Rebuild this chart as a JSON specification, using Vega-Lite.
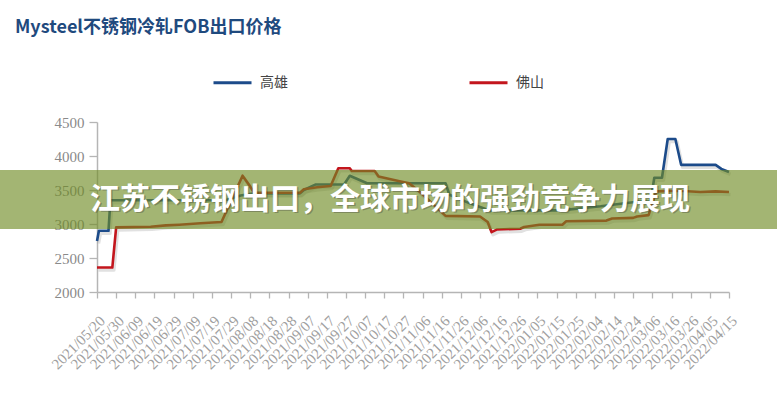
{
  "$schema": "https://vega.github.io/schema/vega-lite/v6.json",
  "width": 632,
  "height": 170,
  "autosize": {"type": "none"},
  "padding": {"left": 97, "top": 122, "right": 48, "bottom": 108},
  "background": "white",
  "config": {"view": {"stroke": null}},
  "title": {
    "text": "Mysteel不锈钢冷轧FOB出口价格",
    "anchor": "start",
    "frame": "group",
    "dx": -82,
    "offset": 25,
    "font": "Noto Sans CJK SC",
    "fontSize": 18,
    "fontWeight": "bold",
    "color": "#1f4a7e"
  },
  "resolve": {"axis": {"x": "independent", "y": "independent"}},
  "data": {
    "values": [
      {"date": "2021-05-20", "series": "高雄", "price": 2750},
      {"date": "2021-05-21", "series": "高雄", "price": 2900},
      {"date": "2021-05-26", "series": "高雄", "price": 2900},
      {"date": "2021-05-27", "series": "高雄", "price": 3350},
      {"date": "2021-07-26", "series": "高雄", "price": 3350},
      {"date": "2021-08-03", "series": "高雄", "price": 3420},
      {"date": "2021-08-10", "series": "高雄", "price": 3450},
      {"date": "2021-09-03", "series": "高雄", "price": 3450},
      {"date": "2021-09-05", "series": "高雄", "price": 3500},
      {"date": "2021-09-11", "series": "高雄", "price": 3580},
      {"date": "2021-09-26", "series": "高雄", "price": 3580},
      {"date": "2021-09-29", "series": "高雄", "price": 3710},
      {"date": "2021-10-08", "series": "高雄", "price": 3600},
      {"date": "2021-11-18", "series": "高雄", "price": 3600},
      {"date": "2021-11-20", "series": "高雄", "price": 3430},
      {"date": "2021-12-01", "series": "高雄", "price": 3300},
      {"date": "2021-12-11", "series": "高雄", "price": 3200},
      {"date": "2022-01-17", "series": "高雄", "price": 3200},
      {"date": "2022-02-07", "series": "高雄", "price": 3260},
      {"date": "2022-02-27", "series": "高雄", "price": 3330},
      {"date": "2022-03-05", "series": "高雄", "price": 3330},
      {"date": "2022-03-07", "series": "高雄", "price": 3680},
      {"date": "2022-03-11", "series": "高雄", "price": 3680},
      {"date": "2022-03-14", "series": "高雄", "price": 4250},
      {"date": "2022-03-18", "series": "高雄", "price": 4250},
      {"date": "2022-03-21", "series": "高雄", "price": 3870},
      {"date": "2022-04-08", "series": "高雄", "price": 3870},
      {"date": "2022-04-11", "series": "高雄", "price": 3810},
      {"date": "2022-04-15", "series": "高雄", "price": 3765},
      {"date": "2021-05-20", "series": "佛山", "price": 2360},
      {"date": "2021-05-28", "series": "佛山", "price": 2360},
      {"date": "2021-05-30", "series": "佛山", "price": 2950},
      {"date": "2021-06-17", "series": "佛山", "price": 2960},
      {"date": "2021-06-25", "series": "佛山", "price": 2980},
      {"date": "2021-07-02", "series": "佛山", "price": 2990},
      {"date": "2021-07-13", "series": "佛山", "price": 3010},
      {"date": "2021-07-24", "series": "佛山", "price": 3030},
      {"date": "2021-08-04", "series": "佛山", "price": 3710},
      {"date": "2021-08-08", "series": "佛山", "price": 3550},
      {"date": "2021-08-10", "series": "佛山", "price": 3460},
      {"date": "2021-09-03", "series": "佛山", "price": 3460},
      {"date": "2021-09-05", "series": "佛山", "price": 3510},
      {"date": "2021-09-12", "series": "佛山", "price": 3540},
      {"date": "2021-09-19", "series": "佛山", "price": 3560},
      {"date": "2021-09-23", "series": "佛山", "price": 3820},
      {"date": "2021-09-29", "series": "佛山", "price": 3820},
      {"date": "2021-09-30", "series": "佛山", "price": 3780},
      {"date": "2021-10-12", "series": "佛山", "price": 3780},
      {"date": "2021-10-14", "series": "佛山", "price": 3700},
      {"date": "2021-10-25", "series": "佛山", "price": 3630},
      {"date": "2021-10-30", "series": "佛山", "price": 3600},
      {"date": "2021-11-05", "series": "佛山", "price": 3460},
      {"date": "2021-11-18", "series": "佛山", "price": 3120},
      {"date": "2021-12-06", "series": "佛山", "price": 3110},
      {"date": "2021-12-10", "series": "佛山", "price": 3030},
      {"date": "2021-12-12", "series": "佛山", "price": 2880},
      {"date": "2021-12-15", "series": "佛山", "price": 2920},
      {"date": "2021-12-27", "series": "佛山", "price": 2930},
      {"date": "2021-12-29", "series": "佛山", "price": 2955},
      {"date": "2022-01-06", "series": "佛山", "price": 2990},
      {"date": "2022-01-18", "series": "佛山", "price": 2990},
      {"date": "2022-01-20", "series": "佛山", "price": 3040},
      {"date": "2022-02-10", "series": "佛山", "price": 3050},
      {"date": "2022-02-13", "series": "佛山", "price": 3080},
      {"date": "2022-02-24", "series": "佛山", "price": 3090},
      {"date": "2022-02-26", "series": "佛山", "price": 3110},
      {"date": "2022-03-04", "series": "佛山", "price": 3130},
      {"date": "2022-03-08", "series": "佛山", "price": 3480},
      {"date": "2022-03-20", "series": "佛山", "price": 3490},
      {"date": "2022-03-31", "series": "佛山", "price": 3470},
      {"date": "2022-04-08", "series": "佛山", "price": 3480},
      {"date": "2022-04-15", "series": "佛山", "price": 3470}
    ]
  },
  "layer": [
    {
      "mark": {"type": "line", "strokeWidth": 3.5, "strokeJoin": "round", "color": "#9a9a9a", "opacity": 0.3, "xOffset": 1.5, "yOffset": 2.5},
      "encoding": {
        "x": {"field": "date", "type": "temporal", "axis": null},
        "y": {"field": "price", "type": "quantitative", "axis": null},
        "detail": {"field": "series"}
      }
    },
    {
      "mark": {"type": "line", "strokeWidth": 2.6, "strokeJoin": "round"},
      "encoding": {
        "x": {
          "field": "date",
          "type": "temporal",
          "scale": {
            "type": "utc",
            "domain": [
              {"year": 2021, "month": 5, "date": 20, "utc": true},
              {"year": 2022, "month": 4, "date": 15, "utc": true}
            ]
          },
          "axis": {
            "title": null,
            "grid": false,
            "labelExpr": "utcFormat(datum.value, '%Y/%m/%d')",
            "values": [
              {"year": 2021, "month": 5, "date": 20, "utc": true},
              {"year": 2021, "month": 5, "date": 30, "utc": true},
              {"year": 2021, "month": 6, "date": 9, "utc": true},
              {"year": 2021, "month": 6, "date": 19, "utc": true},
              {"year": 2021, "month": 6, "date": 29, "utc": true},
              {"year": 2021, "month": 7, "date": 9, "utc": true},
              {"year": 2021, "month": 7, "date": 19, "utc": true},
              {"year": 2021, "month": 7, "date": 29, "utc": true},
              {"year": 2021, "month": 8, "date": 8, "utc": true},
              {"year": 2021, "month": 8, "date": 18, "utc": true},
              {"year": 2021, "month": 8, "date": 28, "utc": true},
              {"year": 2021, "month": 9, "date": 7, "utc": true},
              {"year": 2021, "month": 9, "date": 17, "utc": true},
              {"year": 2021, "month": 9, "date": 27, "utc": true},
              {"year": 2021, "month": 10, "date": 7, "utc": true},
              {"year": 2021, "month": 10, "date": 17, "utc": true},
              {"year": 2021, "month": 10, "date": 27, "utc": true},
              {"year": 2021, "month": 11, "date": 6, "utc": true},
              {"year": 2021, "month": 11, "date": 16, "utc": true},
              {"year": 2021, "month": 11, "date": 26, "utc": true},
              {"year": 2021, "month": 12, "date": 6, "utc": true},
              {"year": 2021, "month": 12, "date": 16, "utc": true},
              {"year": 2021, "month": 12, "date": 26, "utc": true},
              {"year": 2022, "month": 1, "date": 5, "utc": true},
              {"year": 2022, "month": 1, "date": 15, "utc": true},
              {"year": 2022, "month": 1, "date": 25, "utc": true},
              {"year": 2022, "month": 2, "date": 4, "utc": true},
              {"year": 2022, "month": 2, "date": 14, "utc": true},
              {"year": 2022, "month": 2, "date": 24, "utc": true},
              {"year": 2022, "month": 3, "date": 6, "utc": true},
              {"year": 2022, "month": 3, "date": 16, "utc": true},
              {"year": 2022, "month": 3, "date": 26, "utc": true},
              {"year": 2022, "month": 4, "date": 5, "utc": true},
              {"year": 2022, "month": 4, "date": 15, "utc": true}
            ],
            "labelAngle": -45,
            "labelFont": "Liberation Serif",
            "labelFontSize": 15,
            "labelColor": "#a0a0a0",
            "labelOverlap": false,
            "labelFlush": false,
            "labelBound": false,
            "labelPadding": 15,
            "domainColor": "#b5b5b5",
            "domainWidth": 1.5,
            "tickColor": "#b5b5b5",
            "tickWidth": 1.3,
            "tickSize": 6
          }
        },
        "y": {
          "field": "price",
          "type": "quantitative",
          "scale": {"domain": [2000, 4500], "nice": false, "zero": false},
          "axis": {
            "title": null,
            "grid": false,
            "format": "d",
            "values": [2000, 2500, 3000, 3500, 4000, 4500],
            "labelOverlap": false,
            "labelFont": "Liberation Serif",
            "labelFontSize": 15,
            "labelColor": "#8a8a8a",
            "labelPadding": 5,
            "domainColor": "#b5b5b5",
            "domainWidth": 1.5,
            "tickColor": "#b5b5b5",
            "tickWidth": 1.3,
            "tickSize": 8
          }
        },
        "color": {
          "field": "series",
          "type": "nominal",
          "scale": {"domain": ["高雄", "佛山"], "range": ["#1c4b8a", "#c3161d"]},
          "legend": {
            "orient": "none",
            "legendX": 115,
            "legendY": -60,
            "direction": "horizontal",
            "title": null,
            "padding": 0,
            "symbolType": "stroke",
            "symbolSize": 1444,
            "symbolStrokeWidth": 3,
            "labelFont": "Noto Sans CJK SC",
            "labelFontSize": 14,
            "labelColor": "#444444",
            "labelOffset": 7,
            "columnPadding": 175
          }
        }
      }
    },
    {
      "data": {"values": [{}]},
      "mark": {"type": "rect", "color": "#6f8b24", "opacity": 0.64, "clip": false},
      "encoding": {
        "x": {"datum": {"year": 2021, "month": 3, "date": 15, "utc": true}, "type": "temporal", "axis": null},
        "x2": {"datum": {"year": 2022, "month": 5, "date": 25, "utc": true}},
        "y": {"datum": 3795, "type": "quantitative", "axis": null},
        "y2": {"datum": 2925}
      }
    },
    {
      "data": {"values": [{}]},
      "mark": {
        "type": "text",
        "text": "江苏不锈钢出口，全球市场的强劲竞争力展现",
        "font": "Noto Sans CJK SC",
        "fontSize": 30,
        "fontWeight": "bold",
        "color": "#3a3a3a",
        "opacity": 0.35,
        "dx": 1.5,
        "dy": 1.5,
        "align": "center",
        "baseline": "middle",
        "clip": false
      },
      "encoding": {
        "x": {"datum": {"year": 2021, "month": 10, "date": 20, "utc": true}, "type": "temporal", "axis": null},
        "y": {"datum": 3355, "type": "quantitative", "axis": null}
      }
    },
    {
      "data": {"values": [{}]},
      "mark": {
        "type": "text",
        "text": "江苏不锈钢出口，全球市场的强劲竞争力展现",
        "font": "Noto Sans CJK SC",
        "fontSize": 30,
        "fontWeight": "bold",
        "color": "white",
        "align": "center",
        "baseline": "middle",
        "clip": false
      },
      "encoding": {
        "x": {"datum": {"year": 2021, "month": 10, "date": 20, "utc": true}, "type": "temporal", "axis": null},
        "y": {"datum": 3355, "type": "quantitative", "axis": null}
      }
    }
  ]
}
